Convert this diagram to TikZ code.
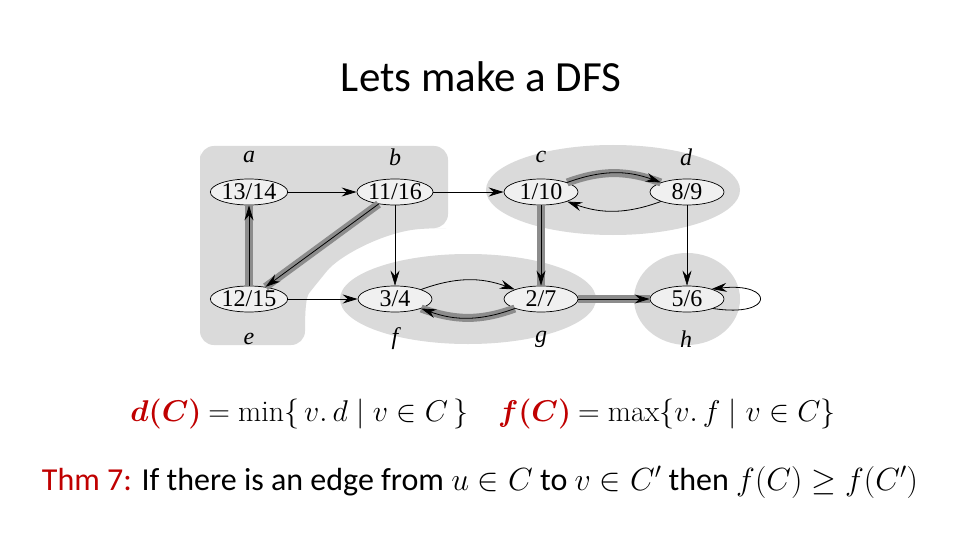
\RequirePackage{fix-cm}
\documentclass[tikz,border=0pt]{standalone}
\usepackage{amsmath,bm}
\usepackage{fontspec}
\setmainfont{Carlito}
\setmathrm{Latin Modern Roman}
\newfontfamily\timesf{Liberation Serif}
\usetikzlibrary{arrows.meta,shapes.geometric}
\definecolor{thmred}{HTML}{C00000}
\definecolor{regfill}{HTML}{DADADA}
\definecolor{nodefill}{HTML}{F0F0F0}
\definecolor{treegray}{HTML}{8C8C8C}
\tikzset{
  vtx/.style={ellipse, draw, line width=0.7pt, fill=nodefill, minimum width=74pt, minimum height=26pt, inner sep=0pt, font=\timesf\fontsize{24}{24}\selectfont},
  lbl/.style={font=\timesf\itshape\fontsize{24}{24}\selectfont},
  edge/.style={-{Stealth[length=15pt,width=9pt,inset=5pt]}, line width=0.8pt},
  tedge/.style={-{Stealth[length=15pt,width=9pt,inset=5pt]}, line width=0.8pt, preaction={draw=treegray, line width=8pt, -}},
}
\begin{document}
\begin{tikzpicture}[x=1pt,y=1pt]
\useasboundingbox[fill=white] (0,0) rectangle (960,-540);
% title
\node[anchor=base, font=\fontsize{43}{43}\selectfont, text=black] (title) at (481,-92) {Lets make a DFS};
% regions
\fill[regfill, rounded corners=14pt] (200,-165) -- (200,-146) -- (448,-146) -- (448,-228) -- (432,-228)
  .. controls (385,-232) and (340,-255) .. (318,-282)
  .. controls (306,-297) and (305,-310) .. (305,-345) -- (200,-345) -- cycle;
\fill[regfill] (613,-190) ellipse [x radius=127, y radius=45];
\fill[regfill] (468,-299) ellipse [x radius=128, y radius=45];
\fill[regfill] (687,-299) ellipse [x radius=53, y radius=46];
% vertices
\node[vtx] (a) at (249,-192) {13/14};
\node[vtx] (b) at (395,-192) {11/16};
\node[vtx] (c) at (541,-192) {1/10};
\node[vtx] (d) at (687,-192) {8/9};
\node[vtx] (e) at (249,-299) {12/15};
\node[vtx] (f) at (395,-299) {3/4};
\node[vtx] (g) at (541,-299) {2/7};
\node[vtx] (h) at (687,-299) {5/6};
% labels
\node[lbl] (la) at (249,-157) {a};
\node[lbl] (lb) at (395,-157) {b};
\node[lbl] (lc) at (541,-157) {c};
\node[lbl] (ld) at (686,-157) {d};
\node[lbl] (le) at (249,-339) {e};
\node[lbl] (lf) at (395,-339) {f};
\node[lbl] (lg) at (541,-339) {g};
\node[lbl] (lh) at (686,-339) {h};
% edges
\draw[edge] (a) -- (b);
\draw[edge] (b) -- (c);
\draw[edge, line width=0.5pt] (b) -- (f);
\draw[tedge] (b) -- (e);
\draw[tedge] (e) -- (a);
\draw[edge] (e) -- (f);
\draw[tedge] (c) to[bend left=20] (d);
\draw[edge] (d) to[bend left=20] (c);
\draw[tedge] (c) -- (g);
\draw[edge, line width=0.5pt] (d) -- (h);
\draw[edge] (f) to[bend left=20] (g);
\draw[tedge] (g) to[bend left=20] (f);
\draw[tedge] (g) -- (h);
\draw[edge] (h.-20) .. controls (775,-318) and (775,-282) .. (h.22);
% formulas
\node[anchor=base, font=\fontsize{30}{36}\selectfont] (eq) at (483,-421)
  {{\color{thmred}$\bm{d(C)}$} $=\min\{\,v.\,d\mid v\in C\,\}$\quad{\color{thmred}$\bm{f(C)}$} $=\max\{v.\,f\mid v\in C\}$};
\node[anchor=base, font=\fontsize{32}{38}\selectfont] (thm) at (480,-490)
  {{\color{thmred}Thm 7:} If there is an edge from $u\in C$ to $v\in C'$ then $f(C)\geq f(C')$};
\end{tikzpicture}
\end{document}
